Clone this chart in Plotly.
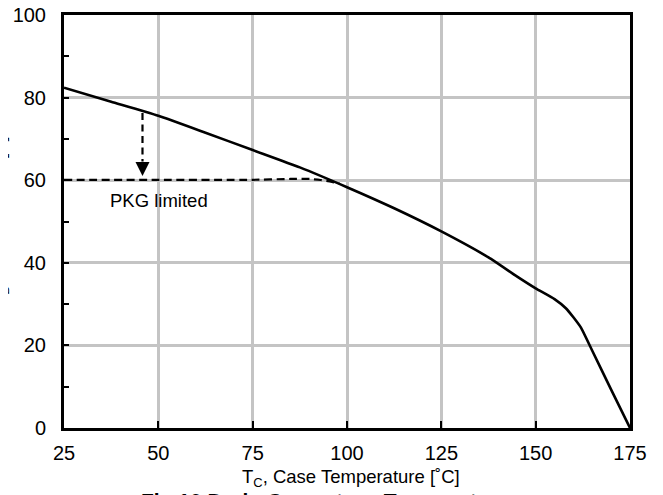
import plotly.graph_objects as go

# ---- data ----
tc_limit = [25, 37.5, 50, 62.5, 75, 87.5, 100, 112.5, 125, 137.5, 145, 150, 155, 158, 160, 162, 165, 170, 175]
id_limit = [82.4, 79.0, 75.6, 71.5, 67.3, 63.1, 58.3, 53.2, 47.6, 41.3, 36.7, 33.8, 31.2, 29.0, 26.8, 24.3, 18.7, 9.3, 0]

tc_pkg = [25, 50, 75, 85, 90, 93, 96, 98]
id_pkg = [60.1, 60.1, 60.1, 60.3, 60.3, 60.05, 59.6, 59.2]

arrow_x = [45.8, 45.8]
arrow_y = [76.3, 64.5]
arrow_tip = 61.0

x_ticks = [25, 50, 75, 100, 125, 150, 175]
y_ticks = [0, 20, 40, 60, 80, 100]

FONT = "Arial, 'Liberation Sans', sans-serif"

fig = go.Figure()

fig.add_trace(go.Scatter(
    x=tc_pkg, y=id_pkg, mode="lines",
    line=dict(color="black", width=2.2, dash="8px,4.5px", shape="spline", smoothing=0.6),
    showlegend=False, hoverinfo="skip"))

fig.add_trace(go.Scatter(
    x=tc_limit, y=id_limit, mode="lines",
    line=dict(color="black", width=2.6, shape="spline", smoothing=0.5),
    showlegend=False, hoverinfo="skip"))

fig.add_trace(go.Scatter(
    x=arrow_x, y=arrow_y, mode="lines",
    line=dict(color="black", width=2.2, dash="7px,4.5px"),
    showlegend=False, hoverinfo="skip"))

annotations = [
    dict(x=arrow_x[0], y=arrow_tip, ax=arrow_x[1], ay=arrow_y[1], xref="x", yref="y",
         axref="x", ayref="y", text="", showarrow=True, arrowhead=2, arrowsize=1.4,
         arrowwidth=2, arrowcolor="black", standoff=0),
    dict(x=36.7, y=55.2, xref="x", yref="y", text="PKG limited", showarrow=False,
         xanchor="left", yanchor="middle", font=dict(family=FONT, size=18.5, color="black")),
    dict(x=0.507, y=0, xref="paper", yref="paper", yanchor="middle", yshift=-50,
         text="T<sub>C</sub>, Case Temperature [˚C]", showarrow=False,
         font=dict(family=FONT, size=18.5, color="black")),
    dict(x=(325 - 64) / 566, y=0, xref="paper", yref="paper", yanchor="middle", yshift=-72,
         text="<b>Fig.10 Drain Current vs. Temperature</b>", showarrow=False,
         font=dict(family=FONT, size=21, color="black")),
    dict(x=0, y=(428 - 218) / 413, xref="paper", yref="paper", xanchor="center", yanchor="middle",
         xshift=-64, textangle=-90, text="I<sub>D</sub>, Drain Current [A]", showarrow=False,
         font=dict(family=FONT, size=18.5, color="black")),
]

fig.update_layout(
    width=663, height=495,
    margin=dict(l=56, r=41, t=7, b=75, pad=0, autoexpand=False),
    paper_bgcolor="white", plot_bgcolor="white",
    font=dict(family=FONT, size=20, color="black"),
    annotations=annotations,
    xaxis=dict(range=[25, 175], tickvals=x_ticks, ticks="inside", ticklen=7, tickwidth=2,
               tickcolor="black", showgrid=True, gridcolor="#c4c4c4", gridwidth=2.5,
               showline=True, linecolor="black", linewidth=3, mirror=True, zeroline=False,
               ticklabelstandoff=5, tickfont=dict(size=20), automargin=False,
               ticklabeloverflow="allow"),
    yaxis=dict(range=[0, 100], tickvals=y_ticks, ticks="inside", ticklen=5, tickwidth=2,
               tickcolor="black", showgrid=True, gridcolor="#c4c4c4", gridwidth=2.5,
               showline=True, linecolor="black", linewidth=3, mirror=True, zeroline=False,
               ticklabelstandoff=11, tickfont=dict(size=20), automargin=False,
               ticklabeloverflow="allow",
               minor=dict(dtick=10, ticks="inside", ticklen=5, tickwidth=2, tickcolor="black",
                          showgrid=False)),
)

fig.write_html("out.html")
